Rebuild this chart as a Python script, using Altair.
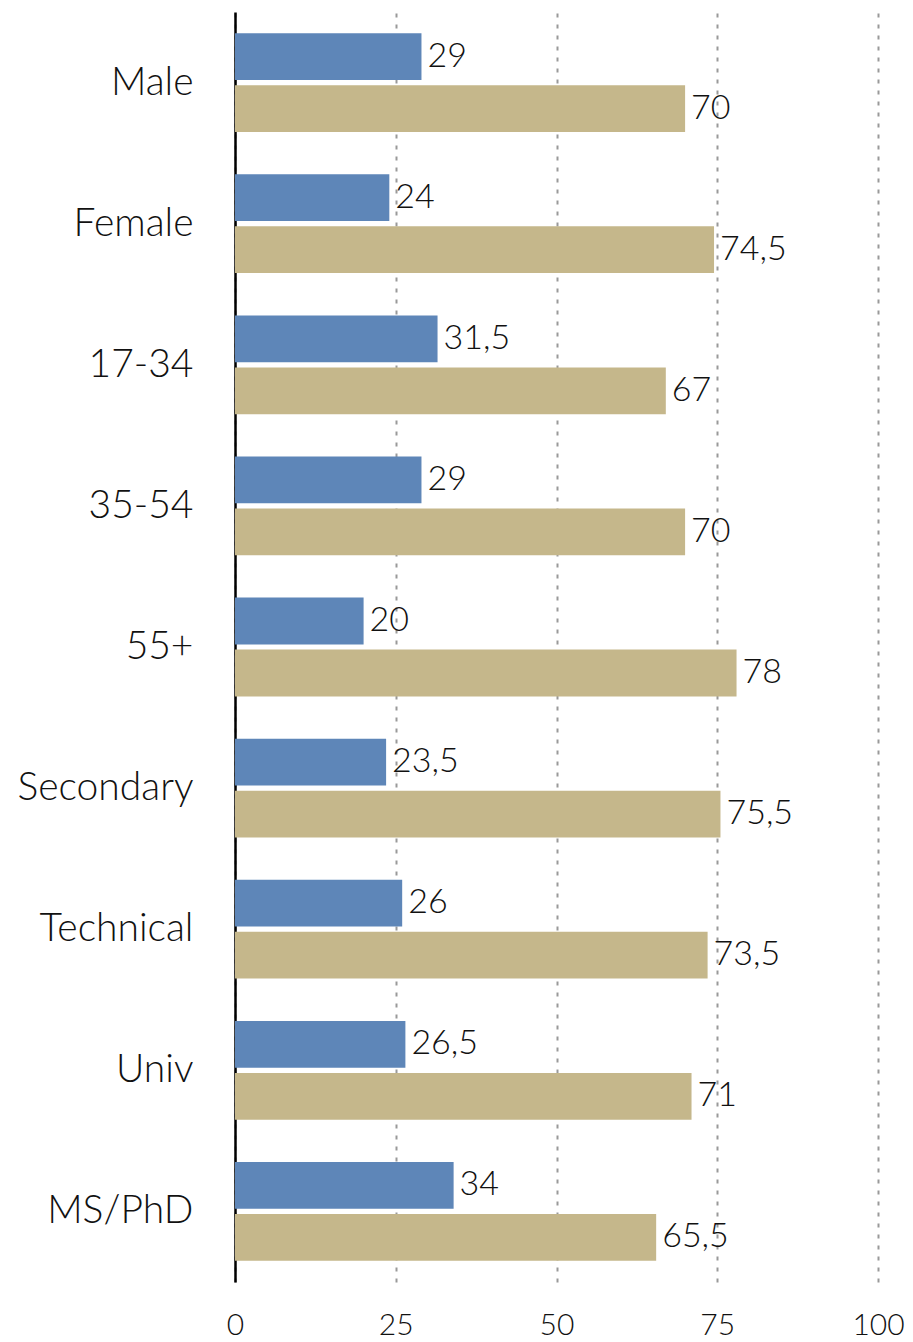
import altair as alt
import pandas as pd

categories = ["Male", "Female", "17-34", "35-54", "55+", "Secondary", "Technical", "Univ", "MS/PhD"]
series_names = ["A", "B"]
values_a = [29, 24, 31.5, 29, 20, 23.5, 26, 26.5, 34]
values_b = [70, 74.5, 67, 70, 78, 75.5, 73.5, 71, 65.5]
x_ticks = [0, 25, 50, 75, 100]

rows = []
for c, a, b in zip(categories, values_a, values_b):
    for s, v in ((series_names[0], a), (series_names[1], b)):
        lab = ("%g" % v).replace(".", ",")
        rows.append({"cat": c, "series": s, "value": v, "label": lab})
df = pd.DataFrame(rows)

FONT = "Lato"

y_enc = alt.Y(
    "cat:N",
    sort=categories,
    scale=alt.Scale(paddingInner=0.3, paddingOuter=0.15),
    axis=alt.Axis(
        title=None,
        ticks=False,
        grid=False,
        domain=True,
        domainColor="#000000",
        domainWidth=2.5,
        labelFont=FONT,
        labelFontWeight=300,
        labelFontSize=39,
        labelColor="#111111",
        labelPadding=42,
        minExtent=227,
        maxExtent=227,
    ),
)
x_enc = alt.X(
    "value:Q",
    scale=alt.Scale(domain=[0, 100], nice=False),
    axis=alt.Axis(
        title=None,
        values=x_ticks,
        domain=False,
        ticks=False,
        grid=True,
        gridDash=[4, 7],
        gridColor="#999999",
        gridWidth=2,
        labelFont=FONT,
        labelFontWeight=300,
        labelFontSize=30,
        labelColor="#111111",
        labelPadding=28,
        labelFlush=False,
        labelOverlap=False,
    ),
)
yoff = alt.YOffset("series:N", sort=series_names, scale=alt.Scale(paddingInner=0.1))

bars = alt.Chart(df).mark_bar().encode(
    y=y_enc,
    x=x_enc,
    yOffset=yoff,
    color=alt.Color(
        "series:N",
        sort=series_names,
        scale=alt.Scale(domain=series_names, range=["#5E86B8", "#C5B78B"]),
        legend=None,
    ),
)

text = alt.Chart(df).mark_text(
    align="left", baseline="middle", dx=6, font=FONT, fontWeight=300, fontSize=34, color="#111111"
).encode(
    y=alt.Y("cat:N", sort=categories),
    x=alt.X("value:Q"),
    yOffset=alt.YOffset("series:N", sort=series_names),
    text="label:N",
)

chart = (
    alt.layer(bars, text)
    .properties(
        width=643,
        height=1270,
        background="white",
        padding={"left": 0, "top": 4, "right": 0, "bottom": 0},
    )
    .configure_view(stroke=None, strokeWidth=0)
)

chart.save("out.html", embed_options={"renderer": "svg", "actions": False})
